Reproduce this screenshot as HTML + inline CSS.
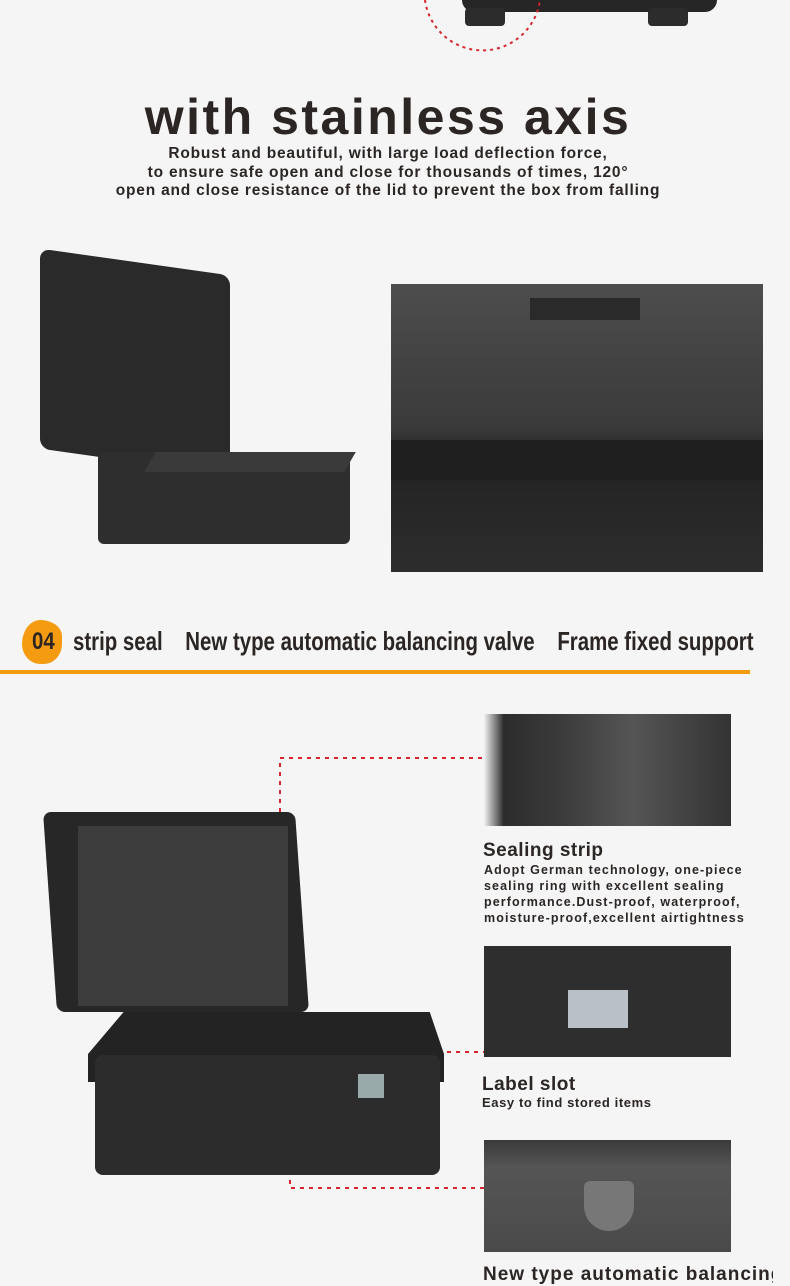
<!DOCTYPE html>
<html><head><style>
*{margin:0;padding:0;box-sizing:border-box}
body{width:790px;height:1272px;background:#f4f5f4;position:relative;overflow:hidden;font-family:"Liberation Sans",sans-serif;color:#2b2624}
.a{position:absolute}
.dark{background:#2c2c2c}
.t{font-weight:bold;white-space:nowrap}
</style></head><body>
<div class="a" style="left:462px;top:0;width:255px;height:12px;background:#262626;border-radius:0 0 12px 12px"></div>
<div class="a dark" style="left:465px;top:8px;width:40px;height:18px;border-radius:4px"></div>
<div class="a dark" style="left:648px;top:8px;width:40px;height:18px;border-radius:4px"></div>
<svg class="a" style="left:0;top:0" width="790" height="1272">
<path d="M425 0 A58 58 0 0 0 540 0" fill="none" stroke="#d8262e" stroke-width="2" stroke-dasharray="3 4"/>
<circle cx="568" cy="442" r="126" fill="none" stroke="#d8262e" stroke-width="2" stroke-dasharray="3 4"/>
<g stroke="#d8262e" stroke-width="2" stroke-dasharray="4 5" fill="none">
<path d="M280 830 V758 H484"/>
<path d="M375 1052 H484"/>
<path d="M290 1090 V1188 H484"/>
</g>
</svg>
<div class="a t" style="left:0;width:776px;top:88px;text-align:center;font-size:50px;letter-spacing:2.5px;color:#2b2624">with stainless axis</div>
<div class="a t" style="left:0;width:776px;top:145px;text-align:center;font-size:15.5px;line-height:18.5px;letter-spacing:.8px">Robust and beautiful, with large load deflection force,<br>to ensure safe open and close for thousands of times, 120°<br>open and close resistance of the lid to prevent the box from falling</div>
<div class="a" style="left:40px;top:262px;width:190px;height:200px;background:#2a2a2a;border-radius:10px;transform:skewY(8deg)"></div>
<div class="a" style="left:98px;top:452px;width:252px;height:92px;background:#2e2e2e;border-radius:6px"></div>
<div class="a" style="left:150px;top:452px;width:200px;height:20px;background:#3a3a3a;transform:skewX(-30deg)"></div>
<div class="a" style="left:391px;top:284px;width:372px;height:288px;background:linear-gradient(180deg,#4d4d4d 0%,#3a3a3a 50%,#222 60%,#2d2d2d 100%)"></div>
<div class="a" style="left:391px;top:440px;width:372px;height:40px;background:#1f1f1f"></div>
<div class="a" style="left:530px;top:298px;width:110px;height:22px;background:#2a2a2a"></div>
<div class="a" style="left:22px;top:620px;width:40px;height:44px;background:#f59b12;border-radius:50% 60% 50% 50%/60% 40% 50% 50%"></div>
<div class="a t" style="left:32px;top:628px;font-size:24px;transform:scaleX(.85);transform-origin:left;color:#2b2624">04</div>
<div class="a t" style="left:73px;top:626px;font-size:26px;transform:scaleX(.785);transform-origin:left">strip seal&nbsp;&nbsp;&nbsp;&nbsp;New type automatic balancing valve&nbsp;&nbsp;&nbsp;&nbsp;Frame fixed support</div>
<div class="a" style="left:0;top:670px;width:750px;height:4px;background:#f59b12"></div>
<div class="a" style="left:50px;top:812px;width:252px;height:200px;background:#272727;border-radius:8px;transform:skewX(4deg)"></div>
<div class="a" style="left:78px;top:826px;width:210px;height:180px;background:#3c3c3c"></div>
<div class="a" style="left:88px;top:1012px;width:356px;height:70px;background:#232323;clip-path:polygon(0 60%,10% 0,96% 0,100% 60%,100% 100%,0 100%)"></div>
<div class="a" style="left:95px;top:1055px;width:345px;height:120px;background:#2c2c2c;border-radius:8px"></div>
<div class="a" style="left:358px;top:1074px;width:26px;height:24px;background:#9aa"></div>
<div class="a" style="left:484px;top:714px;width:247px;height:112px;background:linear-gradient(90deg,#f2f2f2 0%,#2c2c2c 8%,#3a3a3a 30%,#555 60%,#333 100%)"></div>
<div class="a t" style="left:483px;top:840px;font-size:19px;letter-spacing:.5px">Sealing strip</div>
<div class="a t" style="left:484px;top:862px;font-size:12.5px;line-height:16px;letter-spacing:1.1px">Adopt German technology, one-piece<br>sealing ring with excellent sealing<br>performance.Dust-proof, waterproof,<br>moisture-proof,excellent airtightness</div>
<div class="a" style="left:484px;top:946px;width:247px;height:111px;background:#2e2e2e"></div>
<div class="a" style="left:568px;top:990px;width:60px;height:38px;background:#b9c0c8"></div>
<div class="a t" style="left:482px;top:1074px;font-size:19px;letter-spacing:.5px">Label slot</div>
<div class="a t" style="left:482px;top:1095px;font-size:13px;letter-spacing:.6px">Easy to find stored items</div>
<div class="a" style="left:484px;top:1140px;width:247px;height:112px;background:linear-gradient(180deg,#3a3a3a 0%,#555 25%,#4a4a4a 100%)"></div>
<div class="a" style="left:584px;top:1181px;width:50px;height:50px;background:#777;border-radius:6px 6px 25px 25px"></div>
<div class="a t" style="left:483px;top:1264px;width:290px;overflow:hidden;font-size:19px;letter-spacing:1px">New type automatic balancing valve</div>
</body></html>
